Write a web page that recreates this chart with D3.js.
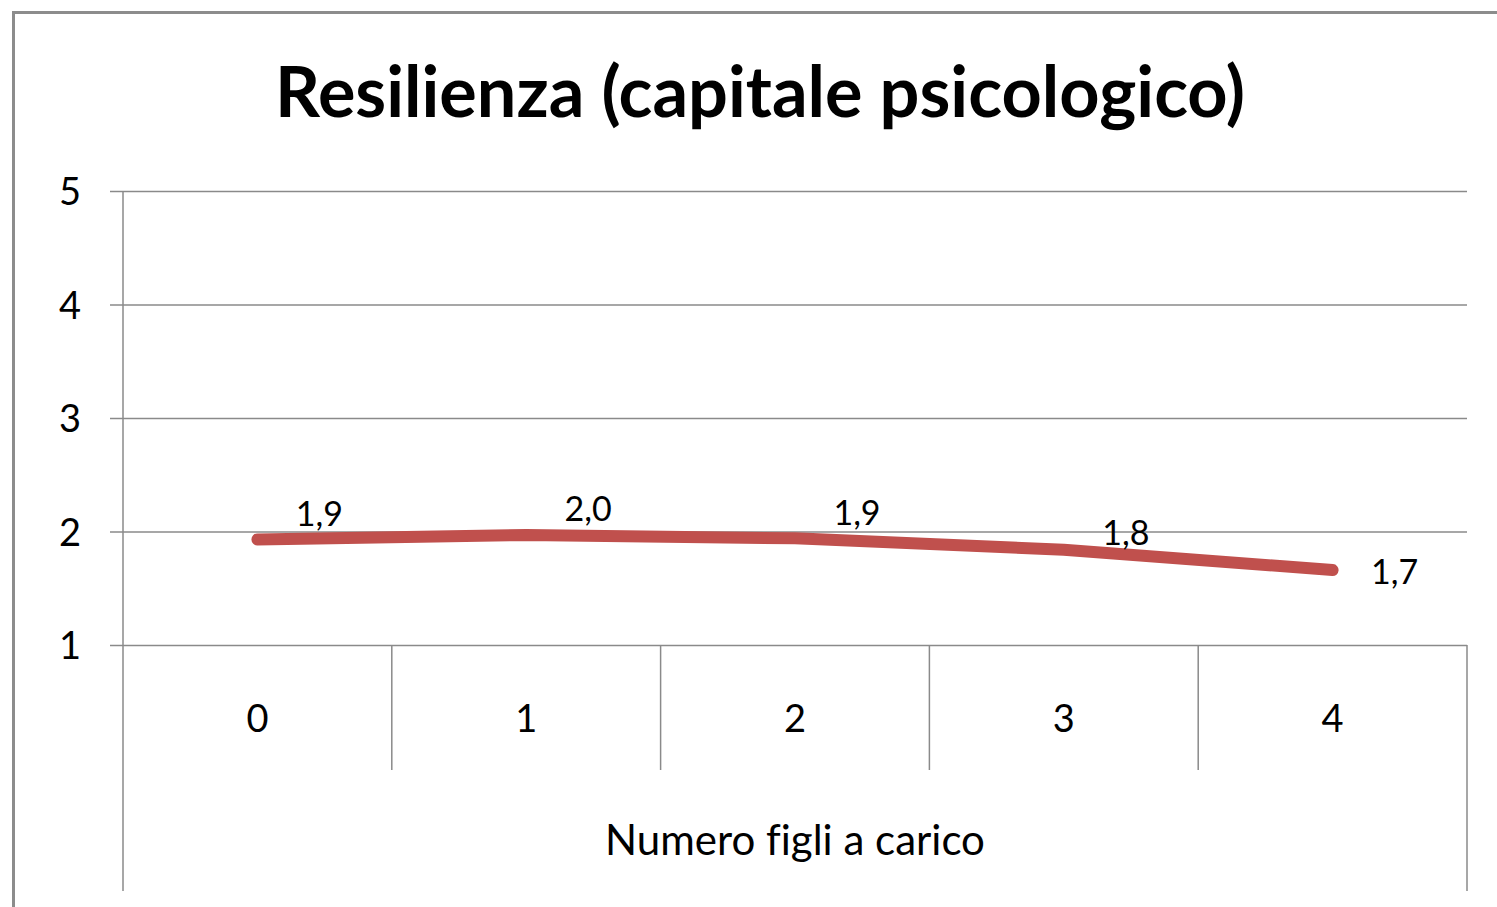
<!DOCTYPE html>
<html><head><meta charset="utf-8">
<script src="https://cdn.jsdelivr.net/npm/d3@7"></script>
<style>html,body{margin:0;padding:0;background:#fff;overflow:hidden} text{font-variant-ligatures:none;font-feature-settings:"liga" 0}</style>
</head><body>
<svg id="chart" width="1497" height="907"></svg>
<script>
const categories = ["0", "1", "2", "3", "4"];
const values = [1.93, 1.97, 1.94, 1.84, 1.66];
const valueLabels = ["1,9", "2,0", "1,9", "1,8", "1,7"];
const yTicks = [1, 2, 3, 4, 5];
const title = "Resilienza (capitale psicologico)";
const xTitle = "Numero figli a carico";

const W = 1497, H = 907;
const m = {left: 123, right: 1467, top: 191, bottom: 645};
const font = "Lato, 'Open Sans', sans-serif";
const gridColor = "#8a8a8a";
const svg = d3.select("#chart");

// outer frame
svg.append("rect").attr("x", 13.5).attr("y", 12.5).attr("width", 1520).attr("height", 960)
  .attr("fill", "none").attr("stroke", "#8c8c8c").attr("stroke-width", 3);

const x = d3.scaleBand().domain(categories).range([m.left, m.right]);
const y = d3.scaleLinear().domain([1, 5]).range([m.bottom, m.top]);

// title
const t = svg.append("text").attr("x", 760).attr("y", 117).attr("text-anchor", "middle")
  .attr("font-family", font).attr("font-weight", "bold").attr("font-size", 66)
  .attr("fill", "#000").text(title);
const tw = t.node().getComputedTextLength();
t.attr("font-size", 66 * 970 / tw);

// y axis with gridlines
const yAxis = d3.axisLeft(y).tickValues(yTicks).tickSize(-(m.right - m.left)).tickPadding(0).tickFormat(d3.format("d"));
const gy = svg.append("g").attr("transform", `translate(${m.left},0)`).call(yAxis);
gy.select(".domain").remove();
gy.selectAll(".tick line").attr("x1", -13).attr("stroke", gridColor).attr("stroke-width", 1.5);
gy.selectAll(".tick text").attr("x", -42).attr("dy", "0.36em").attr("font-family", font)
  .attr("font-size", 38).attr("fill", "#000");

// left vertical axis line
svg.append("line").attr("x1", m.left).attr("x2", m.left).attr("y1", m.top).attr("y2", 891)
  .attr("stroke", gridColor).attr("stroke-width", 1.5);
svg.append("line").attr("x1", m.right).attr("x2", m.right).attr("y1", m.bottom).attr("y2", 891)
  .attr("stroke", gridColor).attr("stroke-width", 1.5);

// category dividers
const inner = categories.slice(1);
svg.selectAll("line.div").data(inner).join("line").attr("class", "div")
  .attr("x1", d => x(d)).attr("x2", d => x(d)).attr("y1", m.bottom).attr("y2", 770)
  .attr("stroke", gridColor).attr("stroke-width", 1.5);

// category labels
svg.selectAll("text.cat").data(categories).join("text").attr("class", "cat")
  .attr("x", d => x(d) + x.bandwidth() / 2).attr("y", 718).attr("dy", "0.36em")
  .attr("text-anchor", "middle").attr("font-family", font).attr("font-size", 38).attr("fill", "#000")
  .text(d => d);

// x title
const xt = svg.append("text").attr("x", 795).attr("y", 840).attr("dy", "0.36em").attr("text-anchor", "middle")
  .attr("font-family", font).attr("font-size", 38).attr("fill", "#000").text(xTitle);
xt.attr("font-size", 38 * 380 / xt.node().getComputedTextLength());

// line
const pts = categories.map((c, i) => [x(c) + x.bandwidth() / 2, y(values[i])]);
svg.append("path").attr("d", d3.line()(pts)).attr("fill", "none")
  .attr("stroke", "#C0504D").attr("stroke-width", 12).attr("stroke-linecap", "round").attr("stroke-linejoin", "round");

// data labels
const labelDy = [-26, -26, -26, -17, 2];
svg.selectAll("text.lbl").data(categories).join("text").attr("class", "lbl")
  .attr("x", (d, i) => pts[i][0] + 62).attr("y", (d, i) => pts[i][1] + labelDy[i]).attr("dy", "0.36em")
  .attr("text-anchor", "middle").attr("font-family", font).attr("font-size", 34).attr("fill", "#000")
  .text((d, i) => valueLabels[i]);
</script>
</body></html>
